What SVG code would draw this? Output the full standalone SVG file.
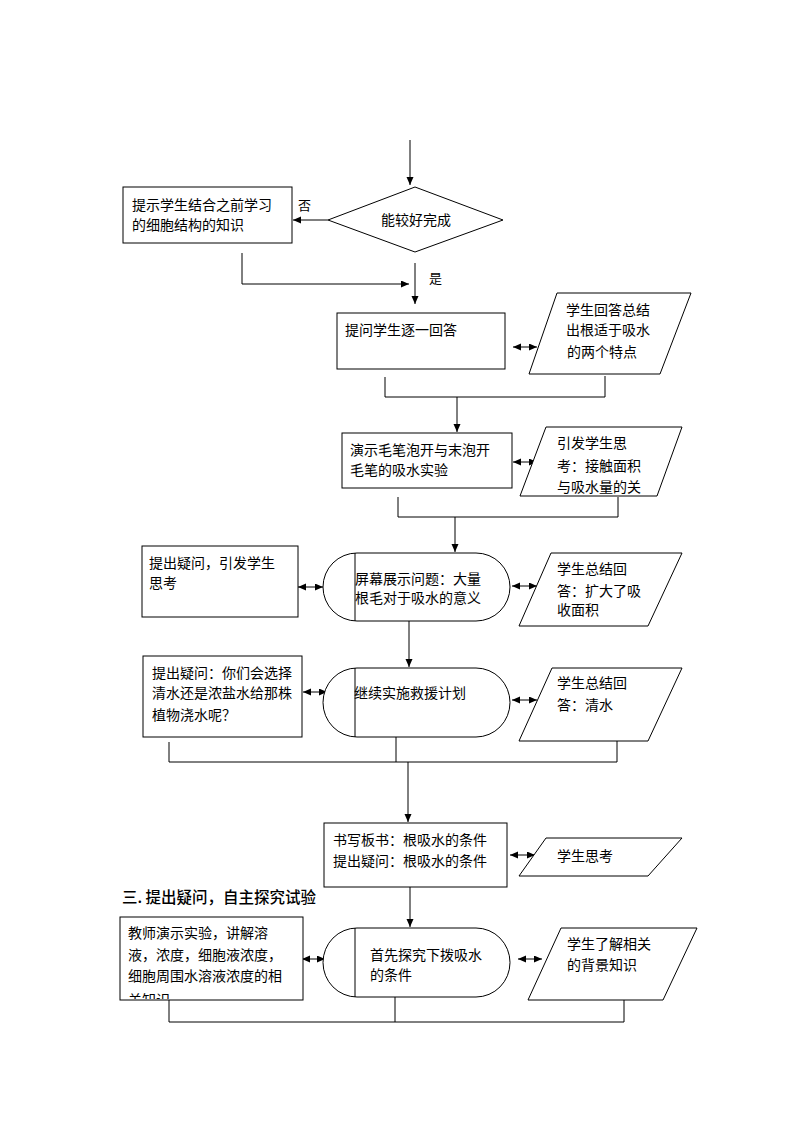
<svg xmlns="http://www.w3.org/2000/svg" width="794" height="1123" viewBox="0 0 794 1123">
<style>
.s{fill:#fff;stroke:#000;stroke-width:1}
.l{fill:none;stroke:#000;stroke-width:1}
.a{fill:none;stroke:#000;stroke-width:1;marker-end:url(#ah)}
.d{fill:none;stroke:#000;stroke-width:1;marker-end:url(#ah);marker-start:url(#ah)}
text{font-family:"Noto Sans CJK SC","Liberation Sans",sans-serif;font-size:14px;fill:#000}
.h{font-size:15.5px;font-weight:500}
.sm{font-size:13px}
</style>
<defs>
<marker id="ah" markerUnits="userSpaceOnUse" markerWidth="8" markerHeight="8" refX="8" refY="3.5" orient="auto-start-reverse"><path d="M0,0 L8,3.5 L0,7 z" fill="#000"/></marker>
<clipPath id="cb6"><rect x="120" y="917" width="183" height="82"/></clipPath>
</defs>
<rect width="794" height="1123" fill="#fff"/>
<g id="connectors">
<line class="a" x1="410" y1="140" x2="410" y2="185"/>
<line class="a" x1="328" y1="220" x2="293" y2="220"/>
<polyline class="a" points="242,253 242,284 409,284"/>
<line class="a" x1="415" y1="263" x2="415" y2="304"/>
<line class="d" x1="513" y1="347" x2="537" y2="347"/>
<polyline class="l" points="385,377 385,397 605,397 605,376"/>
<line class="a" x1="457" y1="397" x2="457" y2="432"/>
<line class="d" x1="513" y1="462" x2="537" y2="462"/>
<polyline class="l" points="398,497 398,517 618,517 618,497"/>
<line class="a" x1="455" y1="517" x2="455" y2="552"/>
<line class="d" x1="298" y1="587" x2="323" y2="587"/>
<line class="d" x1="512" y1="586" x2="537" y2="586"/>
<line class="a" x1="409" y1="621" x2="409" y2="667"/>
<line class="d" x1="303" y1="692" x2="327" y2="692"/>
<line class="d" x1="512" y1="700" x2="537" y2="700"/>
<polyline class="l" points="169,742 169,762 617,762 617,741"/>
<line class="l" x1="396" y1="737" x2="396" y2="762"/>
<line class="a" x1="408" y1="762" x2="408" y2="822"/>
<line class="d" x1="510" y1="855" x2="535" y2="855"/>
<line class="a" x1="410" y1="887" x2="410" y2="927"/>
<line class="d" x1="302" y1="959" x2="325" y2="959"/>
<line class="d" x1="518" y1="959" x2="542" y2="959"/>
<polyline class="l" points="169,1000 169,1022 624,1022 624,1000"/>
<line class="l" x1="395" y1="997" x2="395" y2="1022"/>
</g>
<g id="label-no"><text class="sm" x="298" y="210">否</text></g>
<g id="label-yes"><text class="sm" x="429" y="283">是</text></g>
<g id="n-hint">
<rect class="s" x="123" y="187" width="169" height="56"/>
<text x="132" y="210">提示学生结合之前学习</text>
<text x="132" y="230">的细胞结构的知识</text>
</g>
<g id="n-decision">
<polygon class="s" points="415,187 503,220 415,252 328,220"/>
<text x="416" y="225" text-anchor="middle">能较好完成</text>
</g>
<g id="n-ask">
<rect class="s" x="337" y="313" width="168" height="56"/>
<text x="345" y="335">提问学生逐一回答</text>
</g>
<g id="n-ans1">
<polygon class="s" points="557,293 691,293 660,374 529,374"/>
<text x="566" y="315">学生回答总结</text>
<text x="566" y="335">出根适于吸水</text>
<text x="567" y="357">的两个特点</text>
</g>
<g id="n-demo">
<rect class="s" x="342" y="433" width="170" height="55"/>
<text x="350" y="455">演示毛笔泡开与末泡开</text>
<text x="350" y="475">毛笔的吸水实验</text>
</g>
<g id="n-think1">
<polygon class="s" points="546,427 682,427 657,496 520,496"/>
<text x="557" y="448">引发学生思</text>
<text x="557" y="471">考：接触面积</text>
<text x="557" y="492">与吸水量的关</text>
</g>
<g id="n-q1">
<rect class="s" x="142" y="546" width="156" height="71"/>
<text x="149" y="568">提出疑问，引发学生</text>
<text x="149" y="588">思考</text>
</g>
<g id="n-screen">
<path class="s" d="M357,553 H476 A34,34 0 0 1 476,621 H357 A34,34 0 0 1 357,553 Z"/>
<line class="l" x1="355" y1="553" x2="355" y2="621"/>
<text x="355" y="584">屏幕展示问题：大量</text>
<text x="355" y="603">根毛对于吸水的意义</text>
</g>
<g id="n-ans2">
<polygon class="s" points="551,553 682,553 648,626 519,626"/>
<text x="557" y="574">学生总结回</text>
<text x="557" y="596">答：扩大了吸</text>
<text x="557" y="615">收面积</text>
</g>
<g id="n-q2">
<rect class="s" x="143" y="656" width="159" height="81"/>
<text x="152" y="678">提出疑问：你们会选择</text>
<text x="152" y="698">清水还是浓盐水给那株</text>
<text x="152" y="720">植物浇水呢？</text>
</g>
<g id="n-rescue">
<path class="s" d="M357,668 H476 A34,34.5 0 0 1 476,737 H357 A34,34.5 0 0 1 357,668 Z"/>
<line class="l" x1="355" y1="668" x2="355" y2="737"/>
<text x="354" y="698">继续实施救援计划</text>
</g>
<g id="n-ans3">
<polygon class="s" points="552,668 682,668 648,741 519,741"/>
<text x="557" y="688">学生总结回</text>
<text x="557" y="710">答：清水</text>
</g>
<g id="n-board">
<rect class="s" x="324" y="823" width="183" height="64"/>
<text x="333" y="845">书写板书：根吸水的条件</text>
<text x="333" y="866">提出疑问：根吸水的条件</text>
</g>
<g id="n-think2">
<polygon class="s" points="546,838 682,838 648,876 519,876"/>
<text x="557" y="861">学生思考</text>
</g>
<g id="heading"><text class="h" x="122" y="903">三. 提出疑问，自主探究试验</text></g>
<g id="n-teacher">
<rect class="s" x="120" y="917" width="183" height="83"/>
<g clip-path="url(#cb6)">
<text x="128" y="938">教师演示实验，讲解溶</text>
<text x="128" y="960">液，浓度，细胞液浓度，</text>
<text x="128" y="981">细胞周围水溶液浓度的相</text>
<text x="128" y="1005">关知识</text>
</g>
</g>
<g id="n-explore">
<path class="s" d="M357,928 H476 A34,34.5 0 0 1 476,997 H357 A34,34.5 0 0 1 357,928 Z"/>
<line class="l" x1="355" y1="928" x2="355" y2="997"/>
<text x="370" y="960">首先探究下拨吸水</text>
<text x="370" y="980">的条件</text>
</g>
<g id="n-ans4">
<polygon class="s" points="561,928 697,928 663,1000 528,1000"/>
<text x="567" y="949">学生了解相关</text>
<text x="567" y="970">的背景知识</text>
</g>
</svg>
